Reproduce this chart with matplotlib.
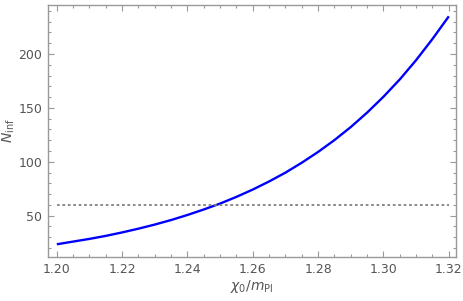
import matplotlib
matplotlib.use('Agg')
import matplotlib.pyplot as plt
from matplotlib.ticker import MultipleLocator

# values
chi0 = [1.200, 1.205, 1.210, 1.215, 1.220, 1.225, 1.230, 1.235, 1.240,
        1.245, 1.250, 1.255, 1.260, 1.265, 1.270, 1.275, 1.280, 1.285,
        1.290, 1.295, 1.300, 1.305, 1.310, 1.315, 1.320]
Ninf = [23.5, 26.0, 28.5, 31.3, 34.5, 38.0, 41.8, 46.0, 50.7,
        55.8, 61.3, 67.5, 74.3, 81.8, 90.0, 99.2, 109.2, 120.2,
        132.3, 145.7, 160.4, 176.5, 194.4, 214.0, 235.0]
N_ref = 60

frame_col = '#999999'
text_col = '#555555'

fig = plt.figure(figsize=(4.63, 3.01), dpi=100)
ax = fig.add_axes([0.1037, 0.1462, 0.8812, 0.8372])

ax.plot(chi0, Ninf, color='#0000ff', lw=1.7, solid_capstyle='butt')
ax.plot([chi0[0], chi0[-1]], [N_ref, N_ref], color='#808080', lw=1.3,
        linestyle=(0, (1.5, 1.5)))

ax.set_xlim(1.1973, 1.3222)
ax.set_ylim(11.7, 245.5)

ax.xaxis.set_major_locator(MultipleLocator(0.02))
ax.xaxis.set_minor_locator(MultipleLocator(0.005))
ax.yaxis.set_major_locator(MultipleLocator(50))
ax.yaxis.set_minor_locator(MultipleLocator(10))
ax.xaxis.set_major_formatter(plt.FuncFormatter(lambda v, p: '%.2f' % v))

ax.tick_params(which='both', direction='in', top=True, right=True,
               color=frame_col, labelcolor=text_col, labelsize=9, width=0.8)
ax.tick_params(which='major', length=4, pad=4)
ax.tick_params(which='minor', length=2.2)
for s in ax.spines.values():
    s.set_color(frame_col)
    s.set_linewidth(1.0)

ax.set_xlabel(r'$\chi_0/m_{\rm Pl}$', color=text_col, fontsize=10, labelpad=2)
ax.set_ylabel(r'$N_{\rm inf}$', color=text_col, fontsize=10, labelpad=1)

fig.savefig('out.png', dpi=100)
